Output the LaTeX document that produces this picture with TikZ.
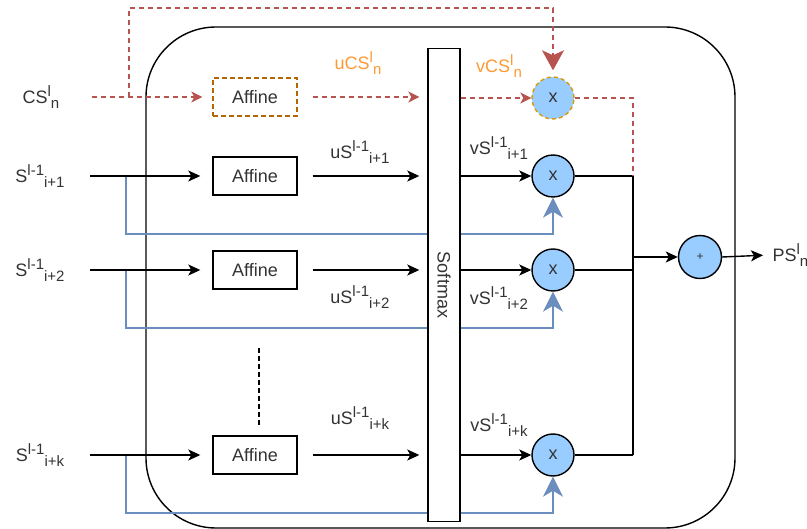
\documentclass[tikz,border=0pt]{standalone}
\usepackage{fontspec}
\setmainfont{Liberation Sans}
\usetikzlibrary{arrows.meta}

\definecolor{txt}{HTML}{333333}
\definecolor{cblue}{HTML}{99CCFF}
\definecolor{cline}{HTML}{6C8EBF}
\definecolor{cred}{HTML}{B85450}
\definecolor{corange}{HTML}{FF9933}
\definecolor{cbrown}{HTML}{B46504}
\definecolor{cdash}{HTML}{D79B00}

% sup and sub, set one after the other
\newcommand{\up}[1]{\raisebox{0.42em}{\fontsize{15}{15}\selectfont #1}}
\newcommand{\dn}[1]{\raisebox{-0.28em}{\fontsize{15}{15}\selectfont #1}}

\begin{document}
\begin{tikzpicture}[x=1pt, y=-1pt, font=\fontsize{18}{21}\selectfont, text=txt,
	affine/.style={draw, line width=1.4pt, minimum width=84pt, minimum height=38pt, inner sep=0pt},
	mul/.style={circle, draw, fill=cblue, line width=1.4pt, minimum size=42pt, inner sep=0pt},
	arr/.style={line width=1.4pt, -{Stealth[length=12pt, width=11pt, inset=3pt]}},
	reddash/.style={draw=cred, line width=1.2pt, dash pattern=on 5pt off 4pt},
	redarr/.style={reddash, -{Stealth[length=11pt, width=11pt, inset=3pt]}},
	feed/.style={draw=cline, line width=1.2pt, -{Stealth[length=20pt, width=20pt, inset=6pt]}}]
	
	\useasboundingbox (0,0) rectangle (807,529);
	
	% Outer block
	\draw[line width=1.4pt, rounded corners=70pt] (146,27) rectangle (735,528);
	
	% Rows: input, affine, product
	\foreach \i/\y/\s in {1/176/1, 2/270/2, 3/455/k} {
		\node (in\i) at (40,\y) {S\up{l-1}\dn{i+\s}};
		\coordinate (s\i) at (90,\y);
		\coordinate (split\i) at (126,\y);
		\node[affine] (aff\i) at (255,\y) {Affine};
		\node[mul] (m\i) at (553,\y) {x};
	}
	
	% Context row
	\node (cs) at (41,97) {CS\up{l}\dn{n}};
	\coordinate (s0) at (92,97);
	\coordinate (split0) at (129,97);
	\coordinate (ctop) at (129,8);
	\node[affine, draw=cbrown, dash pattern=on 5pt off 3pt] (aff0) at (255,97) {Affine};
	\node[mul, draw=cdash, dash pattern=on 4pt off 3pt] (m0) at (553,98) {x};
	
	% Skip connections
	\foreach \i in {1,2,3} {
		\draw[feed] (split\i) -- ++(0,58) -| (m\i.south);
	}
	
	% Softmax
	\node[draw, fill=white, line width=1.4pt, minimum width=32pt, minimum height=473pt, inner sep=0pt] (soft) at (444,285) {};
	\node[rotate=-90] (softlbl) at (soft) {Softmax};
	
	% Arrows through the block
	\foreach \i in {1,2,3} {
		\draw[arr, shorten >=12pt] (s\i) -- (aff\i.west);
		\draw[arr, shorten <=15pt, shorten >=8pt] (aff\i.east) -- (aff\i.east -| soft.west);
		\draw[arr] (m\i.west -| soft.east) -- (m\i.west);
	}
	\draw[redarr, shorten >=10pt] (s0) -- (aff0.west);
	\draw[reddash, -{Stealth[length=20pt, width=22pt, inset=5pt]}, shorten >=6pt] (split0) -- (ctop) -| (m0.north);
	\draw[redarr, shorten <=15pt, shorten >=8pt] (aff0.east) -- (aff0.east -| soft.west);
	\draw[redarr] (m0.west -| soft.east) -- (m0.west);
	
	% Sum of products
	\coordinate (jtop) at (633,176);
	\coordinate (jbot) at (633,455);
	\foreach \i in {1,2,3} {
		\draw[line width=1.4pt] (m\i.east) -- (m\i.east -| jtop);
	}
	\draw[line width=1.4pt] (jtop) -- (jbot);
	\draw[reddash] (m0.east) -| (jtop);
	\node[mul, minimum size=43pt, font=\fontsize{12}{12}\selectfont] (sum) at (700,257) {+};
	\draw[arr] (sum.west -| jtop) -- (sum.west);
	\node[anchor=west] (ps) at (769,255) {PS\up{l}\dn{n}};
	\draw[arr, shorten >=6pt] (sum.east) -- (ps.west);
	
	% Labels
	\node[text=corange] (ucs) at (358,63) {uCS\up{l}\dn{n}};
	\node[text=corange] (vcs) at (499,66) {vCS\up{l}\dn{n}};
	\node (u1) at (360,152) {uS\up{l-1}\dn{i+1}};
	\node (u2) at (360,297) {uS\up{l-1}\dn{i+2}};
	\node (u3) at (360,418) {uS\up{l-1}\dn{i+k}};
	\node (v1) at (499,148) {vS\up{l-1}\dn{i+1}};
	\node (v2) at (499,298) {vS\up{l-1}\dn{i+2}};
	\node (v3) at (499,425) {vS\up{l-1}\dn{i+k}};
	
	% Dots between rows
	\coordinate (dtop) at (259,348);
	\coordinate (dbot) at (259,427);
	\draw[line width=1.1pt, dash pattern=on 5pt off 3pt] (dtop) -- (dbot);
	
\end{tikzpicture}
\end{document}
